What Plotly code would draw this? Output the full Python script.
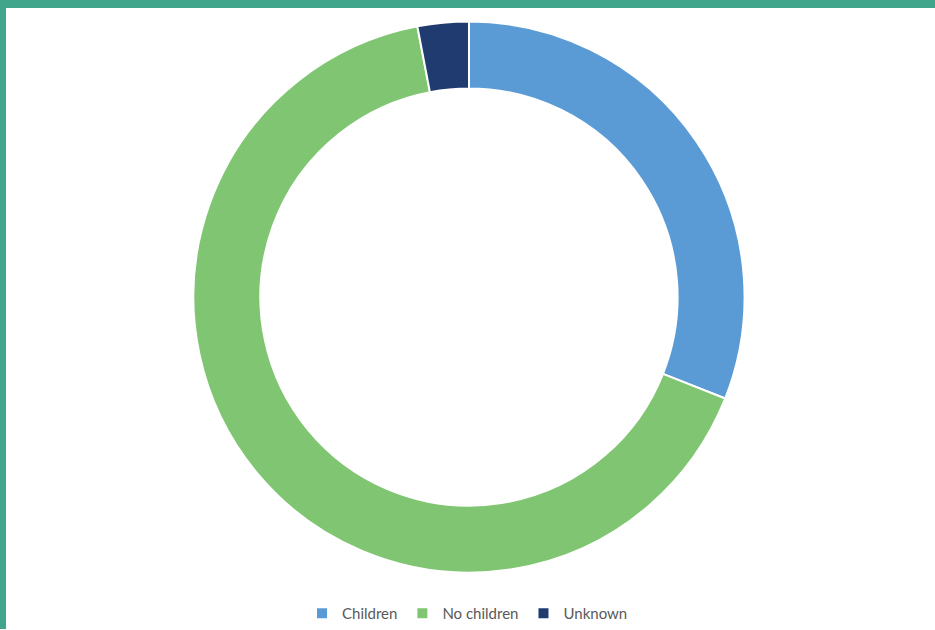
import plotly.graph_objects as go

# Share of respondents by parental status
categories = ["Children", "No children", "Unknown"]
shares = [31, 66, 3]
colors = ["#5B9BD5", "#80C672", "#1F3B6F"]

W, H = 935, 630
cx, cy, r = 469, 297.5, 276

fig = go.Figure(
    go.Pie(
        labels=categories,
        values=shares,
        hole=0.757,
        sort=False,
        direction="clockwise",
        rotation=0,
        textinfo="none",
        hoverinfo="label+percent",
        marker=dict(colors=colors, line=dict(color="white", width=2)),
        domain=dict(
            x=[(cx - r) / W, (cx + r) / W],
            y=[1 - (cy + r) / H, 1 - (cy - r) / H],
        ),
    )
)

fig.update_layout(
    width=W,
    height=H,
    margin=dict(l=0, r=0, t=0, b=0),
    paper_bgcolor="white",
    plot_bgcolor="white",
    showlegend=True,
    legend=dict(
        orientation="h",
        x=0.5,
        xanchor="center",
        y=1 - 614 / H,
        yanchor="middle",
        font=dict(family="Lato, Open Sans, sans-serif", size=15, color="#595959"),
        itemwidth=30,
        tracegroupgap=0,
    ),
    shapes=[
        dict(type="rect", xref="paper", yref="paper", x0=0, x1=1, y0=1 - 8 / H, y1=1,
             fillcolor="#40A58B", line=dict(width=0), layer="above"),
        dict(type="rect", xref="paper", yref="paper", x0=0, x1=6 / W, y0=0, y1=1,
             fillcolor="#40A58B", line=dict(width=0), layer="above"),
    ],
)

fig.write_html("out.html")
